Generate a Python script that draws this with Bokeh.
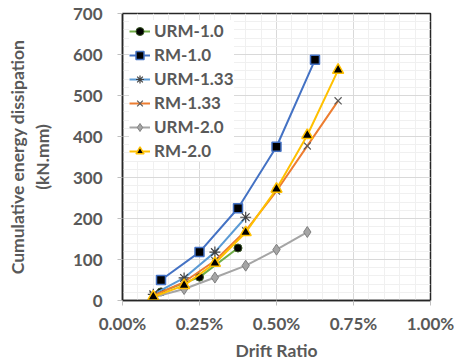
from bokeh.plotting import figure
from bokeh.models import FixedTicker, NumeralTickFormatter, Range1d, Legend, LegendItem
from bokeh.embed import file_html
from bokeh.resources import INLINE

# Data (drift ratio as fraction, energy in kN.mm)
urm10_x = [0.00125, 0.0025, 0.00375]
urm10_y = [21, 57, 128]
rm10_x = [0.00125, 0.0025, 0.00375, 0.005, 0.00625]
rm10_y = [50, 118, 225, 375, 587]
urm133_x = [0.001, 0.002, 0.003, 0.004]
urm133_y = [15, 55, 118, 203]
rm133_x = [0.001, 0.002, 0.003, 0.004, 0.005, 0.006, 0.007]
rm133_y = [12, 45, 97, 170, 267, 377, 487]
urm20_x = [0.001, 0.002, 0.003, 0.004, 0.005, 0.006]
urm20_y = [8, 28, 56, 85, 124, 167]
rm20_x = [0.001, 0.002, 0.003, 0.004, 0.005, 0.006, 0.007]
rm20_y = [9, 37, 91, 166, 272, 403, 562]

x_ticks = [0, 0.0025, 0.005, 0.0075, 0.01]
y_ticks = [0, 100, 200, 300, 400, 500, 600, 700]

FONT = "Lato"
GRAY = "#595959"

p = figure(width=454, height=363, output_backend="svg", toolbar_location=None,
           x_range=Range1d(0, 0.01), y_range=Range1d(0, 700),
           min_border_left=122, min_border_right=24, min_border_top=13, min_border_bottom=63)

p.xaxis.ticker = FixedTicker(ticks=x_ticks, minor_ticks=[i * 0.0005 for i in range(21)])
p.yaxis.ticker = FixedTicker(ticks=y_ticks, minor_ticks=[i * 20 for i in range(36)])
p.xaxis.formatter = NumeralTickFormatter(format="0.00%")

p.xgrid.grid_line_color = "#D9D9D9"
p.ygrid.grid_line_color = "#D9D9D9"
p.xgrid.minor_grid_line_color = "#F0F0F0"
p.ygrid.minor_grid_line_color = "#F0F0F0"

for ax in (p.xaxis, p.yaxis):
    ax.axis_line_color = "#262626"
    ax.axis_line_width = 1.5
    ax.major_tick_line_color = "#BFBFBF"
    ax.major_tick_in = 0
    ax.major_tick_out = 5
    ax.minor_tick_line_color = None
    ax.major_label_text_font = FONT
    ax.major_label_text_font_style = "bold"
    ax.major_label_text_font_size = "17px"
    ax.major_label_text_color = GRAY
    ax.axis_label_text_font = FONT
    ax.axis_label_text_font_style = "bold"
    ax.axis_label_text_font_size = "17.5px"
    ax.axis_label_text_color = GRAY

p.xaxis.axis_label = "Drift Ratio"
p.xaxis.major_label_standoff = 7
p.xaxis.axis_label_standoff = 3
p.yaxis.axis_label = "Cumulative energy dissipation\n(kN.mm)"
p.yaxis.major_label_standoff = 15
p.yaxis.axis_label_standoff = 17

p.outline_line_color = "#262626"
p.outline_line_width = 1.5
p.background_fill_color = "white"

items = []

l = p.line(urm10_x, urm10_y, line_color="#70AD47", line_width=2)
s = p.scatter(urm10_x, urm10_y, marker="circle", size=8, fill_color="black", line_color="#385723")
items.append(LegendItem(label="URM-1.0", renderers=[l, s]))

l = p.line(rm10_x, rm10_y, line_color="#4472C4", line_width=2)
s = p.scatter(rm10_x, rm10_y, marker="square", size=9, fill_color="black", line_color="#4472C4", line_width=1.5)
items.append(LegendItem(label="RM-1.0", renderers=[l, s]))

l = p.line(urm133_x, urm133_y, line_color="#5B9BD5", line_width=2)
s = p.scatter(urm133_x, urm133_y, marker="asterisk", size=11, line_color="#404040", line_width=1.2)
items.append(LegendItem(label="URM-1.33", renderers=[l, s]))

l = p.line(rm133_x, rm133_y, line_color="#ED7D31", line_width=2)
s = p.scatter(rm133_x, rm133_y, marker="x", size=10, line_color="#595959", line_width=1.2)
items.append(LegendItem(label="RM-1.33", renderers=[l, s]))

l = p.line(urm20_x, urm20_y, line_color="#A5A5A5", line_width=2)
s = p.scatter(urm20_x, urm20_y, marker="diamond", size=11, fill_color="#A5A5A5", line_color="#7F7F7F")
items.append(LegendItem(label="URM-2.0", renderers=[l, s]))

l = p.line(rm20_x, rm20_y, line_color="#FFC000", line_width=2)
s = p.scatter(rm20_x, rm20_y, marker="triangle", size=11, fill_color="black", line_color="#FFC000", line_width=1.5)
items.append(LegendItem(label="RM-2.0", renderers=[l, s]))

legend = Legend(items=items, location="top_left")
legend.label_text_font = FONT
legend.label_text_font_style = "bold"
legend.label_text_font_size = "17px"
legend.label_text_color = GRAY
legend.border_line_color = None
legend.background_fill_color = "white"
legend.background_fill_alpha = 1.0
legend.glyph_width = 21
legend.glyph_height = 20
legend.spacing = 3
legend.padding = 4
legend.margin = 7
legend.label_standoff = 4
p.add_layout(legend)

open("out.html", "w").write(file_html(p, INLINE))
